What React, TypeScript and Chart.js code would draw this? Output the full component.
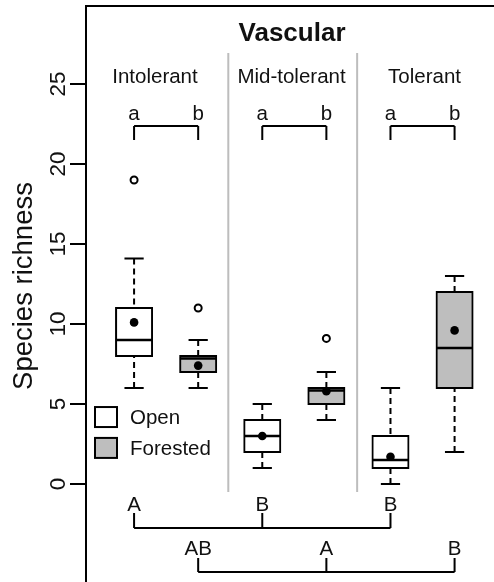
import React, { useEffect, useRef } from 'react';
import { Chart, registerables } from 'chart.js';

Chart.register(...registerables);

// ---- data ----
const groupLabels = ['Intolerant', 'Mid-tolerant', 'Tolerant'];
const habitatLabels = ['Open', 'Forested'];
const openPositions = [1, 3, 5];
const forestedPositions = [2, 4, 6];

const openWhiskerLow = [6, 1, 0];
const openQ1 = [8, 2, 1];
const openMedian = [9, 3, 1.5];
const openQ3 = [11, 4, 3];
const openWhiskerHigh = [14.1, 5, 6];
const openMean = [10.1, 3.0, 1.7];
const openOutliers = [[19], [], []];

const forestedWhiskerLow = [6, 4, 2];
const forestedQ1 = [7, 5, 6];
const forestedMedian = [7.85, 5.85, 8.5];
const forestedQ3 = [8, 6, 12];
const forestedWhiskerHigh = [9, 7, 13];
const forestedMean = [7.4, 5.8, 9.6];
const forestedOutliers = [[11], [9.1], []];

const pairLetters = [['a', 'b'], ['a', 'b'], ['a', 'b']];
const openGroupLetters = ['A', 'B', 'B'];
const forestedGroupLetters = ['AB', 'A', 'B'];
const yTicks = [0, 5, 10, 15, 20, 25];
const separatorX = [2.47, 4.48];

const FONT = '"Liberation Sans", Arial, Helvetica, sans-serif';

type Pt = { x: number; y: number | null };

function segs(list: [number, number, number, number][]): Pt[] {
  const out: Pt[] = [];
  list.forEach(([x1, y1, x2, y2]) => {
    out.push({ x: x1, y: y1 }, { x: x2, y: y2 }, { x: x2, y: null });
  });
  return out;
}

function buildWhiskers(pos: number[], lo: number[], q1: number[], q3: number[], hi: number[]) {
  const s: [number, number, number, number][] = [];
  pos.forEach((p, i) => {
    s.push([p, hi[i], p, q3[i]]);
    s.push([p, lo[i], p, q1[i]]);
  });
  return s;
}
function buildCaps(pos: number[], lo: number[], hi: number[]) {
  const s: [number, number, number, number][] = [];
  pos.forEach((p, i) => {
    s.push([p - 0.15, hi[i], p + 0.15, hi[i]]);
    s.push([p - 0.15, lo[i], p + 0.15, lo[i]]);
  });
  return s;
}
function buildMedians(pos: number[], med: number[]) {
  return pos.map((p, i) => [p - 0.285, med[i], p + 0.285, med[i]] as [number, number, number, number]);
}
function bracket(xs: number[], yTop: number, yBar: number): [number, number, number, number][] {
  const s: [number, number, number, number][] = [];
  s.push([xs[0], yBar, xs[xs.length - 1], yBar]);
  xs.forEach((x) => s.push([x, yTop, x, yBar]));
  return s;
}

const decorPlugin = {
  id: 'decor',
  afterDraw(chart: any) {
    const { ctx, chartArea, scales } = chart;
    const xs = scales.x;
    const ys = scales.y;
    const X = (v: number) => xs.getPixelForValue(v);
    const Y = (v: number) => ys.getPixelForValue(v);
    const txt = (s: string, x: number, y: number, font: string, align: CanvasTextAlign = 'center', rot = 0) => {
      ctx.save();
      ctx.translate(x, y);
      if (rot) ctx.rotate(rot);
      ctx.font = font;
      ctx.fillStyle = '#111';
      ctx.textAlign = align;
      ctx.textBaseline = 'alphabetic';
      ctx.fillText(s, 0, 0);
      ctx.restore();
    };
    ctx.save();
    // axis box (left + top)
    ctx.strokeStyle = '#000';
    ctx.lineWidth = 2;
    ctx.beginPath();
    ctx.moveTo(chartArea.left, chartArea.bottom);
    ctx.lineTo(chartArea.left, chartArea.top);
    ctx.lineTo(chartArea.right, chartArea.top);
    ctx.stroke();
    // y ticks
    yTicks.forEach((t) => {
      const py = Y(t);
      ctx.beginPath();
      ctx.moveTo(chartArea.left - 16, py);
      ctx.lineTo(chartArea.left, py);
      ctx.stroke();
      txt(String(t), chartArea.left - 21, py, `22.5px ${FONT}`, 'center', -Math.PI / 2);
    });
    // y title
    txt('Species richness', 32, Y(12.375), `27.5px ${FONT}`, 'center', -Math.PI / 2);
    // title
    txt('Vascular', X(3.464), Y(27.69), `bold 26px ${FONT}`);
    // group labels
    const groupX = [1.326, 3.456, 5.531];
    groupLabels.forEach((g, i) => txt(g, X(groupX[i]), Y(25.06), `20.5px ${FONT}`));
    // pair letters
    pairLetters.forEach((pl, i) => {
      txt(pl[0], X(openPositions[i]), Y(22.75), `20.5px ${FONT}`);
      txt(pl[1], X(forestedPositions[i]), Y(22.75), `20.5px ${FONT}`);
    });
    // group letters at bottom
    openGroupLetters.forEach((l, i) => txt(l, X(openPositions[i]), Y(-1.69), `20.5px ${FONT}`));
    forestedGroupLetters.forEach((l, i) => txt(l, X(forestedPositions[i]), Y(-4.44), `20.5px ${FONT}`));
    // legend
    const lx = chartArea.left + 9;
    const fills = ['#ffffff', '#bebebe'];
    const rowTop = [Y(4.81), Y(2.88)];
    habitatLabels.forEach((h, i) => {
      ctx.fillStyle = fills[i];
      ctx.fillRect(lx, rowTop[i], 22, 20);
      ctx.strokeStyle = '#000';
      ctx.lineWidth = 2;
      ctx.strokeRect(lx, rowTop[i], 22, 20);
      txt(h, lx + 35, rowTop[i] + 17, `20.5px ${FONT}`, 'left');
    });
    ctx.restore();
  },
};

export default function App() {
  const ref = useRef<HTMLCanvasElement | null>(null);
  useEffect(() => {
    if (!ref.current) return;
    const lineBase = {
      type: 'line' as const,
      pointRadius: 0,
      pointHoverRadius: 0,
      fill: false,
      tension: 0,
      spanGaps: false,
      borderColor: '#000',
      borderWidth: 2,
      borderCapStyle: 'butt' as const,
      borderJoinStyle: 'miter' as const,
    };
    const chart = new Chart(ref.current, {
      type: 'bar',
      data: {
        datasets: [
          {
            ...lineBase,
            label: 'separators',
            data: segs(separatorX.map((sx) => [sx, 26.94, sx, -0.5] as [number, number, number, number])),
            borderColor: '#bdbdbd',
            order: 20,
          },
          {
            ...lineBase,
            label: 'brackets',
            data: segs([
              ...openPositions.flatMap((p, i) => bracket([p, forestedPositions[i]], 21.5, 22.375)),
              ...bracket(openPositions, -1.81, -2.75),
              ...bracket(forestedPositions, -4.62, -5.5),
            ]),
            order: 19,
          },
          {
            ...lineBase,
            label: 'whiskers',
            data: segs([
              ...buildWhiskers(openPositions, openWhiskerLow, openQ1, openQ3, openWhiskerHigh),
              ...buildWhiskers(forestedPositions, forestedWhiskerLow, forestedQ1, forestedQ3, forestedWhiskerHigh),
            ]),
            borderDash: [6, 4],
            order: 18,
          },
          {
            ...lineBase,
            label: 'caps',
            data: segs([
              ...buildCaps(openPositions, openWhiskerLow, openWhiskerHigh),
              ...buildCaps(forestedPositions, forestedWhiskerLow, forestedWhiskerHigh),
            ]),
            order: 17,
          },
          {
            type: 'bar',
            label: 'Open',
            data: openPositions.map((p, i) => ({ x: p, y: [openQ1[i], openQ3[i]] })) as any,
            backgroundColor: '#ffffff',
            borderColor: '#000',
            borderWidth: 2,
            borderSkipped: false,
            barThickness: 36,
            inflateAmount: 1,
            grouped: false,
            order: 10,
          },
          {
            type: 'bar',
            label: 'Forested',
            data: forestedPositions.map((p, i) => ({ x: p, y: [forestedQ1[i], forestedQ3[i]] })) as any,
            backgroundColor: '#bebebe',
            borderColor: '#000',
            borderWidth: 2,
            borderSkipped: false,
            barThickness: 36,
            inflateAmount: 1,
            grouped: false,
            order: 9,
          },
          {
            ...lineBase,
            label: 'medians',
            data: segs([
              ...buildMedians(openPositions, openMedian),
              ...buildMedians(forestedPositions, forestedMedian),
            ]),
            borderWidth: 2.5,
            order: 5,
          },
          {
            type: 'scatter',
            label: 'means',
            data: [
              ...openPositions.map((p, i) => ({ x: p, y: openMean[i] })),
              ...forestedPositions.map((p, i) => ({ x: p, y: forestedMean[i] })),
            ],
            pointRadius: 4.3,
            pointBackgroundColor: '#000',
            pointBorderWidth: 0,
            showLine: false,
            order: 1,
          },
          {
            type: 'scatter',
            label: 'outliers',
            data: [
              ...openPositions.flatMap((p, i) => openOutliers[i].map((v) => ({ x: p, y: v }))),
              ...forestedPositions.flatMap((p, i) => forestedOutliers[i].map((v) => ({ x: p, y: v }))),
            ],
            pointRadius: 3.5,
            pointBackgroundColor: '#fff',
            pointBorderColor: '#000',
            pointBorderWidth: 2,
            showLine: false,
            order: 1,
          },
        ] as any,
      },
      options: {
        responsive: false,
        animation: false,
        events: [],
        layout: { autoPadding: false, padding: { left: 86, top: 6, right: 0, bottom: 0 } },
        scales: {
          x: { type: 'linear', min: 0.25, max: 6.615, offset: false, display: false, grid: { display: false } },
          y: { type: 'linear', min: -6.125, max: 29.875, display: false, grid: { display: false } },
        },
        plugins: { legend: { display: false }, tooltip: { enabled: false } },
      },
      plugins: [decorPlugin],
    });
    return () => chart.destroy();
  }, []);
  return (
    <div style={{ position: 'fixed', left: 0, top: 0, width: 494, height: 582, background: '#fff', overflow: 'hidden' }}>
      <canvas ref={ref} width={494} height={582} style={{ display: 'block' }} />
    </div>
  );
}
